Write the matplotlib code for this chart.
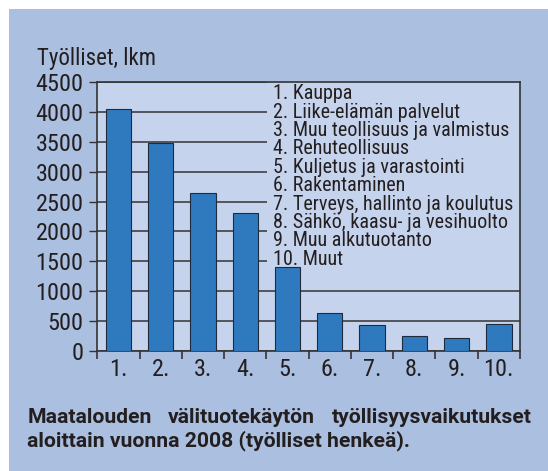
import matplotlib
matplotlib.use("Agg")
import matplotlib.pyplot as plt
from matplotlib.patches import Rectangle
import numpy as np

plt.rcParams['font.family'] = ['Roboto Condensed', 'DejaVu Sans']

# data
labels = ["1.", "2.", "3.", "4.", "5.", "6.", "7.", "8.", "9.", "10."]
values = [4050, 3480, 2640, 2310, 1400, 640, 430, 250, 220, 455]
sectors = [
    "1. Kauppa",
    "2. Liike-elämän palvelut",
    "3. Muu teollisuus ja valmistus",
    "4. Rehuteollisuus",
    "5. Kuljetus ja varastointi",
    "6. Rakentaminen",
    "7. Terveys, hallinto ja koulutus",
    "8. Sähkö, kaasu- ja vesihuolto",
    "9. Muu alkutuotanto",
    "10. Muut",
]
yticks = [0, 500, 1000, 1500, 2000, 2500, 3000, 3500, 4000, 4500]
ylabel = "Työlliset, lkm"
caption1 = ["Maatalouden", "välituotekäytön", "työllisyysvaikutukset"]
caption2 = "aloittain vuonna 2008 (työlliset henkeä)."

PANEL = "#abbfe0"
AXBG = "#c6d3ec"
BAR = "#2f79bf"
DARK = "#231f20"
W, H = 548, 471

fig = plt.figure(figsize=(W / 100, H / 100), dpi=100)
fig.patch.set_facecolor("white")
fig.patches.append(Rectangle((9 / W, 0), 1, 1 - 9 / H, transform=fig.transFigure,
                             facecolor=PANEL, edgecolor="none", zorder=-5))

ax = fig.add_axes([97.3 / W, 1 - 351 / H, 422.7 / W, 269 / H])
ax.set_facecolor(AXBG)

x = np.arange(len(values))
ax.bar(x, values, width=0.6, color=BAR, edgecolor="#1d2b3c", linewidth=0.8, zorder=3)

ax.set_xlim(-0.5, len(values) - 0.5)
ax.set_ylim(0, 4500)
ax.set_yticks(yticks)
ax.set_xticks(x)
ax.set_xticklabels(labels)
ax.set_xticks(np.arange(len(values) + 1) - 0.5, minor=True)

ax.yaxis.grid(True, color="#333333", linewidth=1.1)
ax.set_axisbelow(True)

ax.tick_params(axis="y", length=6, width=1, color="#333333", pad=4, labelsize=17.5, labelcolor=DARK)
ax.tick_params(axis="x", which="major", length=0, pad=5, labelsize=17.5, labelcolor=DARK)
ax.tick_params(axis="x", which="minor", length=6, width=1.2, color="#333333")
for s in ax.spines.values():
    s.set_color("#333333")
    s.set_linewidth(1.2)

# box behind the sector list hides the grid lines
ax.add_patch(Rectangle(((267 - 97.3) / 422.7, (351 - 266) / 269), 1, 1,
                       transform=ax.transAxes, facecolor=AXBG, edgecolor="none", zorder=1))
for i, s in enumerate(sectors):
    ax.text((272.7 - 97.3) / 422.7, (351 - (99.3 + 18.4 * i)) / 269, s,
            transform=ax.transAxes, va="baseline", ha="left",
            fontsize=14.5, color=DARK, zorder=4)

fig.text(36.7 / W, 1 - 65 / H, ylabel, fontsize=16.5, color=DARK, va="baseline")

# caption, first line justified
y1 = 1 - 422.7 / H
y2 = 1 - 446 / H
capkw = dict(fontsize=15.2, fontweight="bold", color=DARK, va="baseline",
             family=["Roboto", "DejaVu Sans"])
t1 = fig.text(27.3 / W, y1, caption1[0], ha="left", **capkw)
t3 = fig.text(531.7 / W, y1, caption1[2], ha="right", **capkw)
t2 = fig.text(0, y1, caption1[1], ha="center", **capkw)
r = fig.canvas.get_renderer()
b1 = t1.get_window_extent(r)
b2 = t2.get_window_extent(r)
b3 = t3.get_window_extent(r)
gap = (b3.x0 - b1.x1 - b2.width) / 2
t2.set_x((b1.x1 + gap + b2.width / 2) / W)
fig.text(27.3 / W, y2, caption2, ha="left", **capkw)

fig.savefig("out.png", dpi=100)
